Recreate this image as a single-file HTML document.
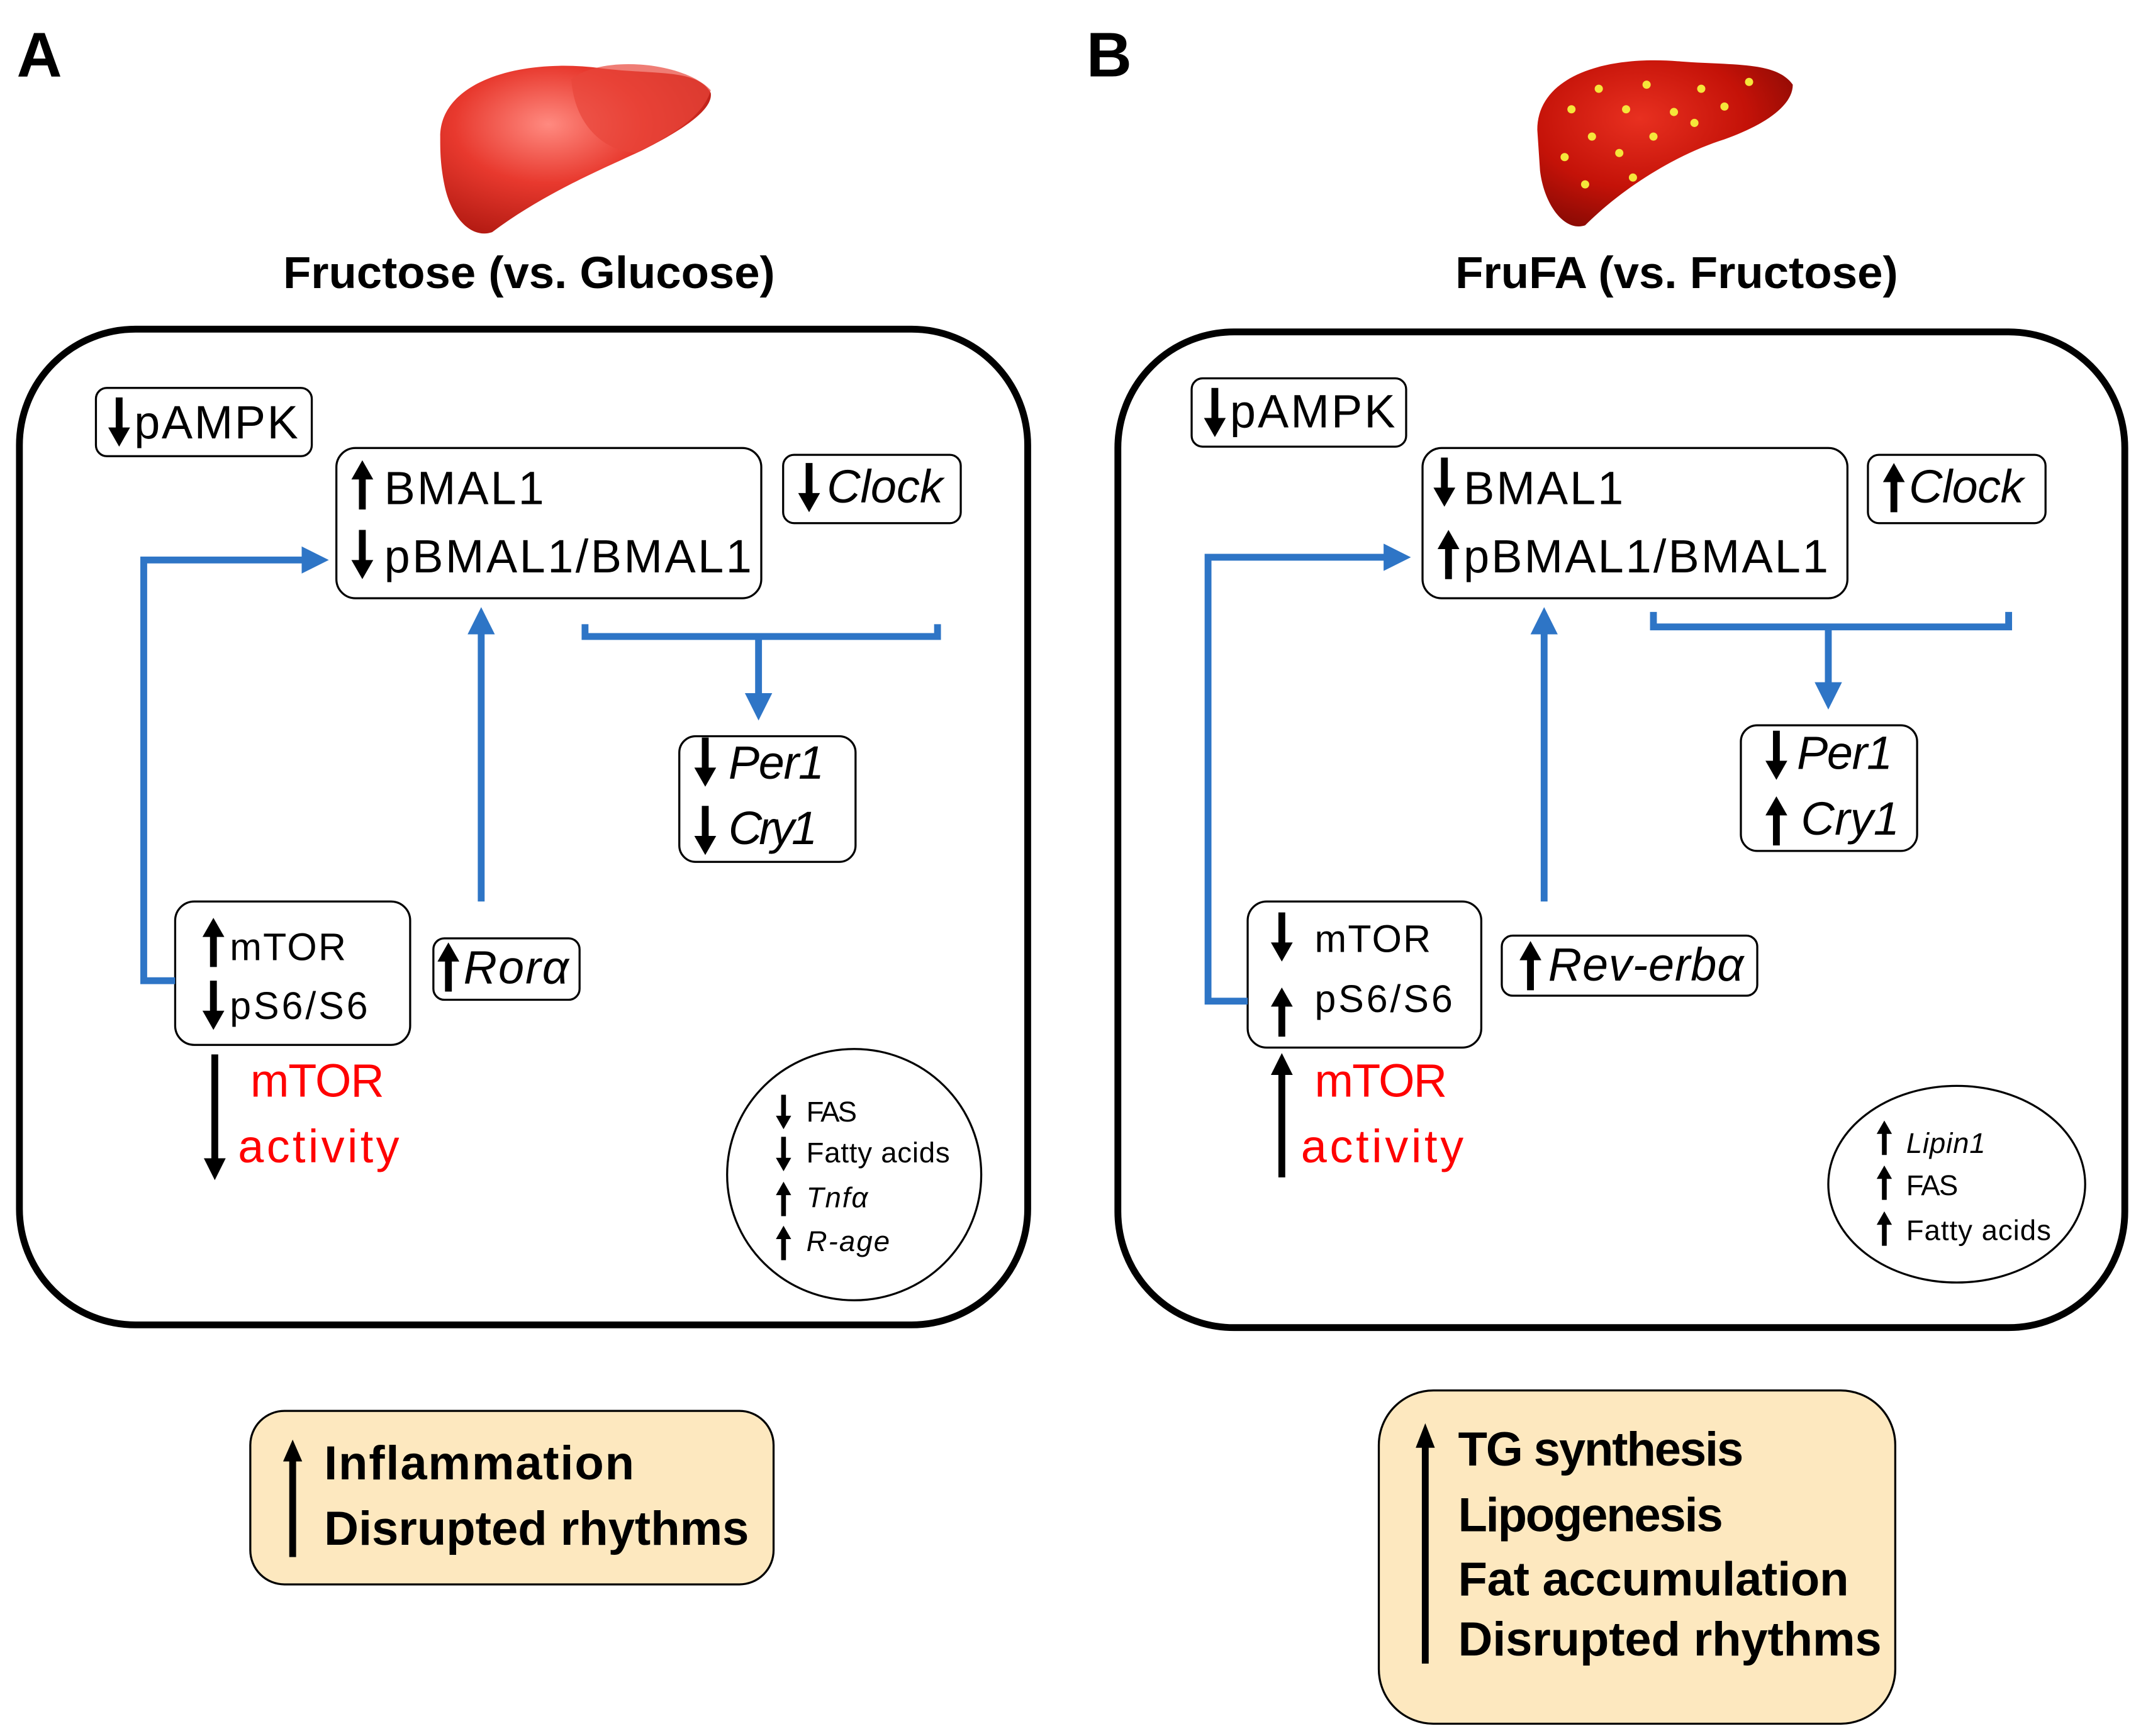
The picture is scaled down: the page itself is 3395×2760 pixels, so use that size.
<!DOCTYPE html>
<html><head><meta charset="utf-8"><style>html,body{margin:0;padding:0;background:#fff}svg{display:block}</style></head>
<body>
<svg width="3395" height="2760" viewBox="0 0 1563 1271" xmlns="http://www.w3.org/2000/svg" font-family="Liberation Sans, sans-serif">
<defs>
<path id="up" d="M0,-18 L8,-4 L2.5,-4 L2.5,18 L-2.5,18 L-2.5,-4 L-8,-4 Z" fill="#000"/>
<marker id="bh" markerWidth="4" markerHeight="4" refX="1.5" refY="2" orient="auto" markerUnits="strokeWidth"><path d="M0,0 L4,2 L0,4 Z" fill="#2e75c6"/></marker>
<radialGradient id="lg" cx="0.4" cy="0.35" r="0.7"><stop offset="0" stop-color="#ff8a80"/><stop offset="0.5" stop-color="#e8392e"/><stop offset="1" stop-color="#b31a12"/></radialGradient>
<radialGradient id="lg2" cx="0.4" cy="0.35" r="0.7"><stop offset="0" stop-color="#e83020"/><stop offset="0.6" stop-color="#c41208"/><stop offset="1" stop-color="#8a0a04"/></radialGradient>
</defs>
<rect width="1563" height="1271" fill="#fff"/>
<text x="12" y="56" font-size="46" font-weight="bold">A</text>
<text x="795" y="56" font-size="46" font-weight="bold">B</text>
<path d="M322,100 C322,60 380,42 440,50 C480,55 510,50 520,68 C522,80 500,95 470,110 C445,122 400,140 360,170 C345,175 330,160 325,135 C322,120 322,110 322,100 Z" fill="url(#lg)"/>
<path d="M418,58 C440,40 500,45 520,66 C515,85 490,100 465,112 C440,110 420,90 418,58 Z" fill="#e8463a" opacity="0.7"/>
<path d="M1125,95 C1125,58 1170,40 1230,45 C1270,48 1300,45 1312,62 C1312,78 1290,92 1262,102 C1230,112 1190,135 1160,165 C1145,170 1130,150 1127,125 Z" fill="url(#lg2)"/>
<g fill="#f5e63a">
<circle cx="1150" cy="80" r="3"/><circle cx="1170" cy="65" r="3"/><circle cx="1190" cy="80" r="3"/><circle cx="1165" cy="100" r="3"/><circle cx="1205" cy="62" r="3"/><circle cx="1225" cy="82" r="3"/><circle cx="1185" cy="112" r="3"/><circle cx="1145" cy="115" r="3"/><circle cx="1210" cy="100" r="3"/><circle cx="1245" cy="65" r="3"/><circle cx="1262" cy="78" r="3"/><circle cx="1240" cy="90" r="3"/><circle cx="1160" cy="135" r="3"/><circle cx="1195" cy="130" r="3"/><circle cx="1280" cy="60" r="3"/>
</g>
<text x="207" y="211" font-size="33" font-weight="bold" textLength="360" lengthAdjust="spacingAndGlyphs">Fructose (vs. Glucose)</text>
<text x="1065" y="211" font-size="33" font-weight="bold" textLength="324" lengthAdjust="spacingAndGlyphs">FruFA (vs. Fructose)</text>
<rect x="14" y="241" width="738" height="729" rx="85" fill="none" stroke="#000" stroke-width="5"/>
<rect x="818" y="243" width="737" height="729" rx="85" fill="none" stroke="#000" stroke-width="5"/>
<g fill="none" stroke="#000" stroke-width="1.5">
<rect x="70" y="284" width="158" height="50" rx="8"/>
<rect x="246" y="328" width="311" height="110" rx="14"/>
<rect x="573" y="333" width="130" height="50" rx="8"/>
<rect x="497" y="539" width="129" height="92" rx="12"/>
<rect x="128" y="660" width="172" height="105" rx="14"/>
<rect x="317" y="687" width="107" height="45" rx="8"/>
<ellipse cx="625" cy="860" rx="93" ry="92"/>
<rect x="872" y="277" width="157" height="50" rx="8"/>
<rect x="1041" y="328" width="311" height="110" rx="14"/>
<rect x="1367" y="333" width="130" height="50" rx="8"/>
<rect x="1274" y="531" width="129" height="92" rx="12"/>
<rect x="913" y="660" width="171" height="107" rx="14"/>
<rect x="1099" y="685" width="187" height="44" rx="8"/>
<ellipse cx="1432" cy="867" rx="94" ry="72"/>
</g>
<rect x="183" y="1033" width="383" height="127" rx="25" fill="#fde8bf" stroke="#000" stroke-width="1.5"/>
<rect x="1009" y="1018" width="378" height="244" rx="40" fill="#fde8bf" stroke="#000" stroke-width="1.5"/>
<g fill="none" stroke="#2e75c6" stroke-width="5">
<path d="M128,718 H105 V410 H228" marker-end="url(#bh)"/>
<path d="M352,660 V457" marker-end="url(#bh)"/>
<path d="M428,457 V466 H686 V457"/>
<path d="M555,466 V515" marker-end="url(#bh)"/>
<path d="M913,733 H884 V408 H1020" marker-end="url(#bh)"/>
<path d="M1130,660 V457" marker-end="url(#bh)"/>
<path d="M1210,448 V459 H1470 V448"/>
<path d="M1338,459 V507" marker-end="url(#bh)"/>
</g>
<path d="M157,772 V850" stroke="#000" stroke-width="5"/><path d="M149,848 L157,864 L165,848 Z"/>
<path d="M938,862 V785" stroke="#000" stroke-width="5"/><path d="M930,787 L938,771 L946,787 Z"/>
<path d="M214,1140 V1068" stroke="#000" stroke-width="5"/><path d="M207,1070 L214,1054 L221,1070 Z"/>
<path d="M1043,1218 V1058" stroke="#000" stroke-width="5"/><path d="M1036,1060 L1043,1042 L1050,1060 Z"/>
<use href="#up" transform="translate(87,309) rotate(180)"/>
<use href="#up" transform="translate(265,355)"/>
<use href="#up" transform="translate(265,406) rotate(180)"/>
<use href="#up" transform="translate(592,357) rotate(180)"/>
<use href="#up" transform="translate(516,558) rotate(180)"/>
<use href="#up" transform="translate(516,608) rotate(180)"/>
<use href="#up" transform="translate(156,690)"/>
<use href="#up" transform="translate(156,736) rotate(180)"/>
<use href="#up" transform="translate(328,708)"/>
<use href="#up" transform="translate(889,302) rotate(180)"/>
<use href="#up" transform="translate(1057,353) rotate(180)"/>
<use href="#up" transform="translate(1060,406)"/>
<use href="#up" transform="translate(1386,357)"/>
<use href="#up" transform="translate(1300,553) rotate(180)"/>
<use href="#up" transform="translate(1300,601)"/>
<use href="#up" transform="translate(938,686) rotate(180)"/>
<use href="#up" transform="translate(938,741)"/>
<use href="#up" transform="translate(1120,707)"/>
<g transform="scale(0.7)">
<use href="#up" transform="translate(819,1163) rotate(180)"/>
<use href="#up" transform="translate(819,1207) rotate(180)"/>
<use href="#up" transform="translate(819,1254)"/>
<use href="#up" transform="translate(819,1300)"/>
<use href="#up" transform="translate(1970,1190)"/>
<use href="#up" transform="translate(1970,1237)"/>
<use href="#up" transform="translate(1970,1285)"/>
</g>
<g font-size="34" lengthAdjust="spacingAndGlyphs">
<text x="98" y="321" textLength="120">pAMPK</text>
<text x="281" y="369" textLength="117">BMAL1</text>
<text x="281" y="419" textLength="269">pBMAL1/BMAL1</text>
<text x="605" y="368" font-style="italic" textLength="85">Clock</text>
<text x="533" y="570" font-style="italic" textLength="70">Per1</text>
<text x="533" y="618" font-style="italic" textLength="65">Cry1</text>
<text x="339" y="720" font-style="italic" textLength="77">Rorα</text>
<text x="900" y="313" textLength="121">pAMPK</text>
<text x="1071" y="369" textLength="117">BMAL1</text>
<text x="1071" y="419" textLength="267">pBMAL1/BMAL1</text>
<text x="1397" y="368" font-style="italic" textLength="84">Clock</text>
<text x="1315" y="563" font-style="italic" textLength="70">Per1</text>
<text x="1318" y="611" font-style="italic" textLength="72">Cry1</text>
<text x="1133" y="718" font-style="italic" textLength="143">Rev-erbα</text>
<text x="183" y="803" fill="#ff0000" textLength="98">mTOR</text>
<text x="174" y="851" fill="#ff0000" textLength="118">activity</text>
<text x="962" y="803" fill="#ff0000" textLength="97">mTOR</text>
<text x="952" y="851" fill="#ff0000" textLength="119">activity</text>
</g>
<g font-size="28" lengthAdjust="spacingAndGlyphs">
<text x="168" y="703" textLength="85">mTOR</text>
<text x="168" y="746" textLength="101">pS6/S6</text>
<text x="962" y="697" textLength="85">mTOR</text>
<text x="962" y="741" textLength="101">pS6/S6</text>
</g>
<g font-size="21" lengthAdjust="spacingAndGlyphs">
<text x="590" y="821" textLength="37">FAS</text>
<text x="590" y="851" textLength="105">Fatty acids</text>
<text x="590" y="884" font-style="italic" textLength="45">Tnfα</text>
<text x="590" y="916" font-style="italic" textLength="61">R-age</text>
<text x="1395" y="844" font-style="italic" textLength="58">Lipin1</text>
<text x="1395" y="875" textLength="38">FAS</text>
<text x="1395" y="908" textLength="106">Fatty acids</text>
</g>
<g font-size="35" font-weight="bold" lengthAdjust="spacingAndGlyphs">
<text x="237" y="1083" textLength="227">Inflammation</text>
<text x="237" y="1131" textLength="311">Disrupted rhythms</text>
<text x="1067" y="1073" textLength="209">TG synthesis</text>
<text x="1067" y="1121" textLength="194">Lipogenesis</text>
<text x="1067" y="1168" textLength="286">Fat accumulation</text>
<text x="1067" y="1212" textLength="310">Disrupted rhythms</text>
</g>
</svg>
</body></html>
